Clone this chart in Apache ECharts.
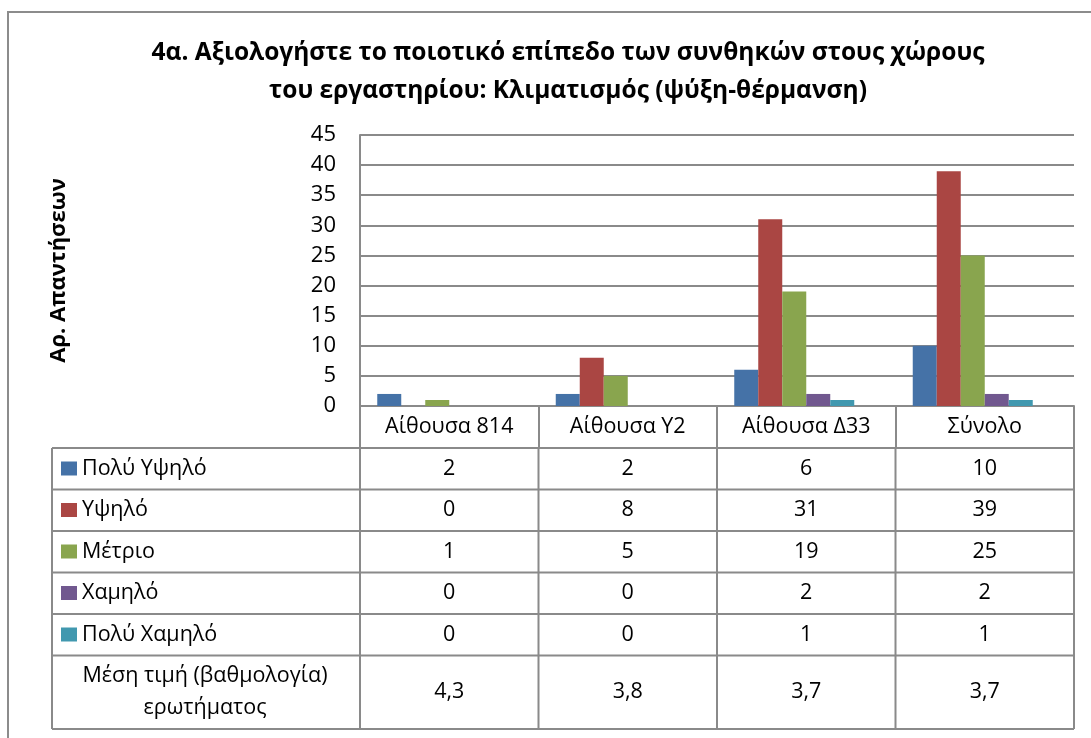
<!DOCTYPE html>
<html>
<head>
<meta charset="utf-8">
<script src="https://cdn.jsdelivr.net/npm/echarts@6/dist/echarts.min.js"></script>
<style>
  html, body { margin: 0; padding: 0; background: #fff; }
  #main { width: 1091px; height: 738px; }
</style>
</head>
<body>
<div id="main"></div>
<script>
const categories = ['Αίθουσα 814', 'Αίθουσα Υ2', 'Αίθουσα Δ33', 'Σύνολο'];
const seriesNames = ['Πολύ Υψηλό', 'Υψηλό', 'Μέτριο', 'Χαμηλό', 'Πολύ Χαμηλό'];
const veryHigh = [2, 2, 6, 10];
const high = [0, 8, 31, 39];
const medium = [1, 5, 19, 25];
const low = [0, 0, 2, 2];
const veryLow = [0, 0, 1, 1];
const meanName = 'Μέση τιμή (βαθμολογία)\nερωτήματος';
const meanScore = [4.3, 3.8, 3.7, 3.7];
const yMin = 0, yMax = 45, yStep = 5;

const dataRows = [veryHigh, high, medium, low, veryLow];
const colors = ['#4572A7', '#AA4643', '#89A54E', '#71588F', '#4198AF'];
const font = 'Open Sans';
const lineColor = '#8a8a8a';
const cellSize = 21.5;

const chart = echarts.init(document.getElementById('main'));

// table geometry (below the axis)
const tableLeft = 52;
const rowTop = 448;
const rowH = 41.5;
const tableBottom = 729;

const series = seriesNames.map(function (name, i) {
  return {
    name: name,
    type: 'bar',
    data: dataRows[i],
    barWidth: 24,
    barGap: '0%',
    itemStyle: { color: colors[i] },
    animation: false
  };
});
// the mean score is a series too in the original, but without fill
series.push({
  name: meanName,
  type: 'bar',
  data: meanScore,
  barWidth: 24,
  barGap: '0%',
  itemStyle: { color: 'rgba(0,0,0,0)' },
  animation: false
});

chart.setOption({
  animation: false,
  textStyle: { fontFamily: font, color: '#000' },
  title: {
    text: '4α. Αξιολογήστε το ποιοτικό επίπεδο των συνθηκών στους χώρους\nτου εργαστηρίου: Κλιματισμός (ψύξη-θέρμανση)',
    left: 563,
    top: 29,
    textAlign: 'center',
    textStyle: { fontFamily: font, fontSize: 24.5, fontWeight: 'bold', color: '#000', lineHeight: 38 }
  },
  legend: {
    data: seriesNames,
    orient: 'vertical',
    left: 61,
    top: 457.5,
    itemWidth: 16,
    itemHeight: 14,
    itemGap: 19.5,
    padding: 0,
    icon: 'rect',
    selectedMode: false,
    textStyle: { fontFamily: font, fontSize: cellSize, color: '#000', lineHeight: 22 }
  },
  grid: { left: 360, right: 17, top: 135, bottom: 332 },
  xAxis: {
    type: 'category',
    data: categories,
    axisLine: { lineStyle: { color: lineColor, width: 2 } },
    axisTick: { show: true, length: 42, interval: 0, lineStyle: { color: lineColor, width: 2 } },
    axisLabel: { interval: 0, margin: 8, fontSize: cellSize, lineHeight: 26, color: '#000', fontFamily: font }
  },
  yAxis: {
    type: 'value',
    min: yMin,
    max: yMax,
    interval: yStep,
    name: 'Αρ. Απαντήσεων',
    nameLocation: 'middle',
    nameRotate: 90,
    nameGap: 290,
    nameTextStyle: { fontFamily: font, fontSize: 22, fontWeight: 'bold', color: '#000' },
    axisLine: { show: true, lineStyle: { color: lineColor, width: 2 } },
    axisTick: { show: false },
    axisLabel: { margin: 24, fontSize: 22, color: '#000', fontFamily: font },
    splitLine: { lineStyle: { color: lineColor, width: 2 } }
  },
  series: series
});

function buildTable() {
  const c0 = chart.convertToPixel({ xAxisIndex: 0 }, 0);
  const c1 = chart.convertToPixel({ xAxisIndex: 0 }, 1);
  const w = c1 - c0;
  const centers = categories.map(function (_, i) { return c0 + i * w; });
  const bounds = [];
  for (let i = 0; i <= categories.length; i++) bounds.push(c0 - w / 2 + i * w);
  const right = bounds[bounds.length - 1];

  const els = [];
  // chart outline
  els.push({
    type: 'rect', silent: true,
    shape: { x: 8, y: 12, width: 1200, height: 1000 },
    style: { fill: 'none', stroke: '#8c8c8c', lineWidth: 2 }
  });

  const ys = [];
  for (let r = 0; r <= dataRows.length; r++) ys.push(rowTop + r * rowH);
  ys.push(tableBottom);
  ys.forEach(function (y) {
    els.push({ type: 'line', silent: true, shape: { x1: tableLeft, y1: y, x2: right, y2: y },
      style: { stroke: lineColor, lineWidth: 2 } });
  });
  [tableLeft].concat(bounds).forEach(function (x) {
    els.push({ type: 'line', silent: true, shape: { x1: x, y1: rowTop, x2: x, y2: tableBottom },
      style: { stroke: lineColor, lineWidth: 2 } });
  });

  dataRows.forEach(function (row, r) {
    row.forEach(function (v, c) {
      els.push({
        type: 'text', silent: true, x: centers[c], y: rowTop + rowH * (r + 0.5),
        style: { text: String(v), fontFamily: font, fontSize: cellSize, fill: '#000', align: 'center', verticalAlign: 'middle' }
      });
    });
  });

  const meanY = (ys[dataRows.length] + tableBottom) / 2;
  els.push({
    type: 'text', silent: true, x: 205, y: meanY,
    style: { text: meanName, fontFamily: font, fontSize: cellSize, lineHeight: 32, fill: '#000', align: 'center', verticalAlign: 'middle' }
  });
  meanScore.forEach(function (v, c) {
    els.push({
      type: 'text', silent: true, x: centers[c], y: meanY,
      style: { text: v.toFixed(1).replace('.', ','), fontFamily: font, fontSize: cellSize, fill: '#000', align: 'center', verticalAlign: 'middle' }
    });
  });

  chart.setOption({ graphic: { elements: els } });
}

buildTable();
</script>
</body>
</html>
